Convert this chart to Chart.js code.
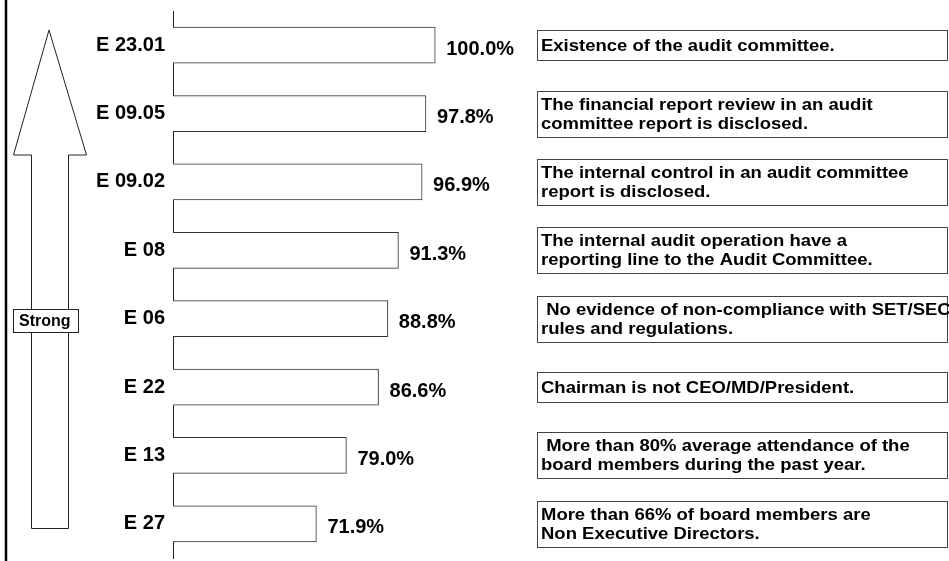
<!DOCTYPE html>
<html lang="en">
<head>
<meta charset="UTF-8">
<title>Audit committee indicators</title>
<script src="https://cdn.jsdelivr.net/npm/chart.js"></script>
<style>
  html, body { margin: 0; padding: 0; background: #fff; }
  #wrap { width: 949px; height: 561px; position: relative; }
</style>
</head>
<body>
<div id="wrap"><canvas id="chart"></canvas></div>
<script>
const codes = ['E 23.01', 'E 09.05', 'E 09.02', 'E 08', 'E 06', 'E 22', 'E 13', 'E 27'];
const scores = [100.0, 97.8, 96.9, 91.3, 88.8, 86.6, 79.0, 71.9];
const descriptions = [
  ['Existence of the audit committee.'],
  ['The financial report review in an audit', 'committee report is disclosed.'],
  ['The internal control in an audit committee', 'report is disclosed.'],
  ['The internal audit operation have a', 'reporting line to the Audit Committee.'],
  [' No evidence of non-compliance with SET/SEC', 'rules and regulations.'],
  ['Chairman is not CEO/MD/President.'],
  [' More than 80% average attendance of the', 'board members during the past year.'],
  ['More than 66% of board members are', 'Non Executive Directors.']
];
const arrowLabel = 'Strong';

const FONT = 'Arial, "Liberation Sans", sans-serif';

// white page, left rule, "Strong" arrow, value labels and the text boxes
const sidePlugin = {
  id: 'side',
  beforeDraw(chart) {
    const ctx = chart.ctx;
    ctx.save();
    ctx.fillStyle = '#fff';
    ctx.fillRect(0, 0, chart.width, chart.height);
    ctx.restore();
  },
  afterDraw(chart) {
    const ctx = chart.ctx;
    const bars = chart.getDatasetMeta(0).data;
    ctx.save();

    ctx.strokeStyle = '#000';
    ctx.lineWidth = 2.5;
    ctx.beginPath();
    ctx.moveTo(6, 0);
    ctx.lineTo(6, chart.height);
    ctx.stroke();

    // outline arrow
    ctx.lineWidth = 1;
    ctx.strokeStyle = '#222';
    ctx.fillStyle = '#fff';
    ctx.beginPath();
    ctx.moveTo(49, 30);
    ctx.lineTo(86.5, 155);
    ctx.lineTo(68.5, 155);
    ctx.lineTo(68.5, 528.5);
    ctx.lineTo(31.5, 528.5);
    ctx.lineTo(31.5, 155);
    ctx.lineTo(13.5, 155);
    ctx.closePath();
    ctx.fill();
    ctx.stroke();

    ctx.fillRect(13.5, 309.5, 65, 23);
    ctx.strokeRect(13.5, 309.5, 65, 23);
    ctx.save();
    ctx.beginPath();
    ctx.rect(14, 310, 64, 22);
    ctx.clip();
    ctx.fillStyle = '#000';
    ctx.font = 'bold 16px ' + FONT;
    ctx.textBaseline = 'middle';
    ctx.textAlign = 'left';
    ctx.fillText(arrowLabel, 19, 322);
    ctx.restore();

    bars.forEach((bar, i) => {
      ctx.fillStyle = '#000';
      ctx.font = 'bold 20px ' + FONT;
      ctx.textAlign = 'left';
      ctx.textBaseline = 'middle';
      ctx.fillText(scores[i].toFixed(1) + '%', bar.x + 11, bar.y + 4);

      const lines = descriptions[i];
      const h = lines.length === 1 ? 30 : 46;
      const top = Math.round(bar.y - h / 2) + 0.5;
      ctx.strokeStyle = '#444';
      ctx.lineWidth = 1;
      ctx.strokeRect(537.5, top, 410, h);

      ctx.font = 'bold 16.5px ' + FONT;
      const y0 = bar.y - (lines.length - 1) * 19 / 2 + 1;
      lines.forEach((t, j) => {
        ctx.save();
        ctx.translate(541, y0 + j * 19);
        ctx.scale(1.12, 1);
        ctx.fillText(t, 0, 0);
        ctx.restore();
      });
    });

    ctx.restore();
  }
};

new Chart(document.getElementById('chart'), {
  type: 'bar',
  data: {
    labels: codes,
    datasets: [{
      data: scores,
      backgroundColor: '#fff',
      borderColor: '#333',
      borderWidth: 1,
      borderSkipped: false,
      barThickness: 36
    }]
  },
  options: {
    indexAxis: 'y',
    responsive: true,
    maintainAspectRatio: false,
    animation: false,
    layout: { padding: { left: 0, right: 260, top: 11, bottom: 3 } },
    plugins: { legend: { display: false }, tooltip: { enabled: false } },
    scales: {
      x: { display: false, min: 38, max: 160 },
      y: {
        grid: { display: false, drawTicks: false },
        border: { display: true, color: '#222', width: 1 },
        ticks: { color: '#000', padding: 8, font: { family: FONT, size: 20, weight: 'bold' } },
        afterFit(scale) {
          scale.width = 173;
          scale.paddingTop = 0;
          scale.paddingBottom = 0;
        }
      }
    }
  },
  plugins: [sidePlugin]
});
</script>
</body>
</html>
